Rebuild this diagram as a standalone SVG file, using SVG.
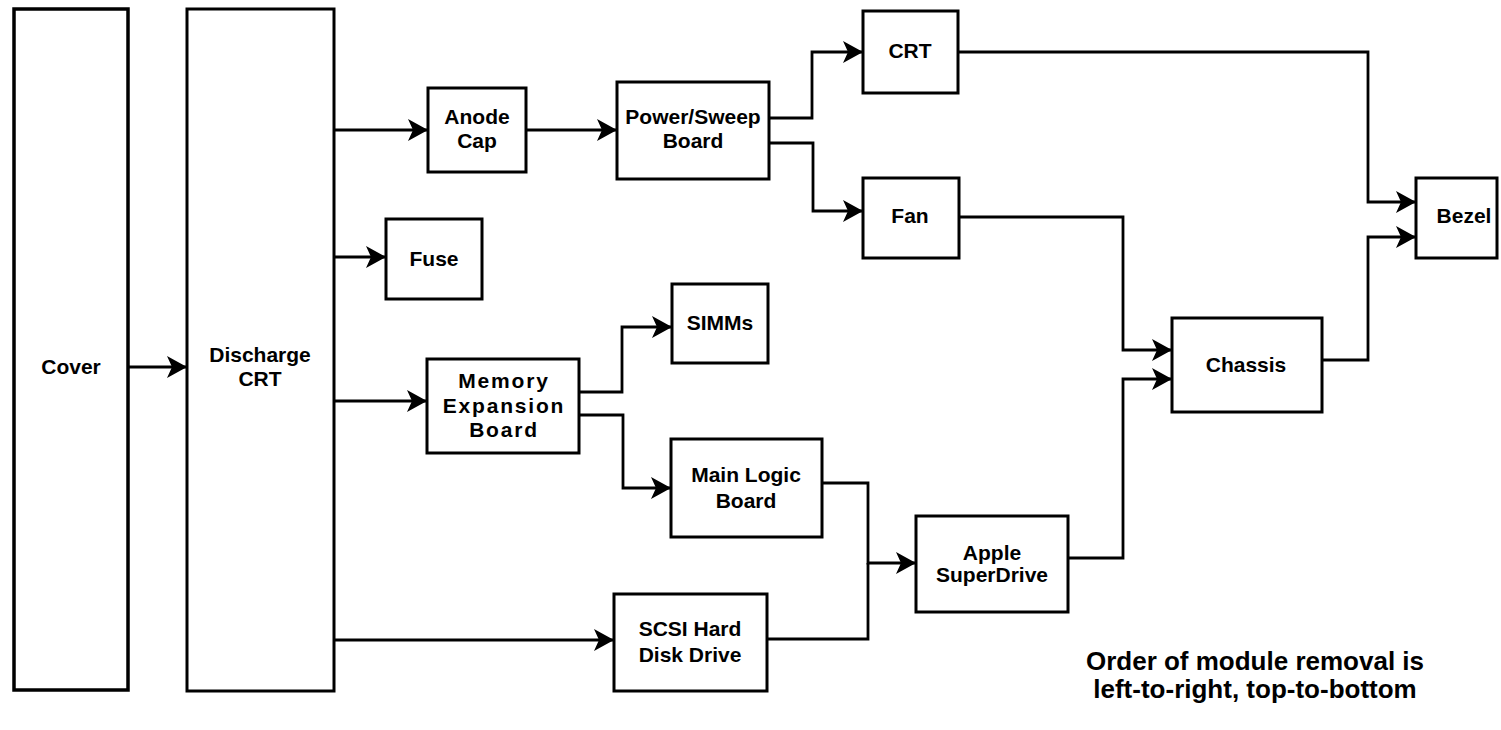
<svg xmlns="http://www.w3.org/2000/svg" width="1501" height="730" viewBox="0 0 1501 730">
<style>
.box{fill:#fff;stroke:#000;stroke-width:3}
.thick{stroke-width:3.5}
.lbl{font-family:"Liberation Sans",Arial,Helvetica,sans-serif;font-weight:bold;font-size:21px;fill:#000;text-anchor:middle}
.sp{letter-spacing:1.8px}
.con{fill:none;stroke:#000;stroke-width:2.8;marker-end:url(#arr)}
.plain{fill:none;stroke:#000;stroke-width:2.8}
.note{font-family:"Liberation Sans",Arial,Helvetica,sans-serif;font-weight:bold;font-size:26px;fill:#000;text-anchor:middle}
</style>
<defs>
<marker id="arr" markerUnits="userSpaceOnUse" markerWidth="24" markerHeight="24" refX="20" refY="11" orient="auto" overflow="visible">
<path d="M0,0 L20,11 L0,22 L5,11 Z" fill="#000"/>
</marker>
</defs>
<rect width="1501" height="730" fill="#fff"/>
<g id="connectors">
<path class="con" d="M128,367 H187"/>
<path class="con" d="M334,130 H428"/>
<path class="con" d="M334,257 H386"/>
<path class="con" d="M334,401 H427"/>
<path class="con" d="M334,640 H614"/>
<path class="con" d="M526,130 H617"/>
<path class="con" d="M769,118 H812 V52 H863"/>
<path class="con" d="M769,143 H813 V211 H863"/>
<path class="con" d="M958,52 H1368 V202 H1416"/>
<path class="con" d="M959,217 H1123 V350 H1172"/>
<path class="con" d="M579,392 H622 V327 H672"/>
<path class="con" d="M579,415 H623 V488 H671"/>
<path class="con" d="M822,483 H868 V563 H916"/>
<path class="plain" d="M767,639 H868 V563"/>
<path class="con" d="M1068,558 H1123 V379 H1172"/>
<path class="con" d="M1322,360 H1368 V237 H1416"/>
</g>
<g id="cover"><rect class="box thick" x="14" y="9" width="114" height="681"/><text class="lbl" x="71" y="374">Cover</text></g>
<g id="discharge"><rect class="box" x="187" y="9" width="147" height="682"/><text class="lbl" x="260" y="362">Discharge</text><text class="lbl" x="260" y="386">CRT</text></g>
<g id="anode"><rect class="box" x="428" y="88" width="98" height="84"/><text class="lbl" x="477" y="124">Anode</text><text class="lbl" x="477" y="148">Cap</text></g>
<g id="fuse"><rect class="box" x="386" y="219" width="96" height="80"/><text class="lbl" x="434" y="266">Fuse</text></g>
<g id="power"><rect class="box" x="617" y="82" width="152" height="97"/><text class="lbl" x="693" y="124">Power/Sweep</text><text class="lbl" x="693" y="148">Board</text></g>
<g id="crt"><rect class="box" x="863" y="11" width="95" height="82"/><text class="lbl" x="910" y="58">CRT</text></g>
<g id="fan"><rect class="box" x="863" y="178" width="96" height="80"/><text class="lbl" x="910" y="223">Fan</text></g>
<g id="simms"><rect class="box" x="672" y="284" width="96" height="79"/><text class="lbl" x="720" y="330">SIMMs</text></g>
<g id="memory"><rect class="box" x="427" y="359" width="152" height="94"/><text class="lbl sp" x="504" y="388">Memory</text><text class="lbl sp" x="504" y="413">Expansion</text><text class="lbl sp" x="504" y="437">Board</text></g>
<g id="mlb"><rect class="box" x="671" y="439" width="151" height="98"/><text class="lbl" x="746" y="482">Main Logic</text><text class="lbl" x="746" y="508">Board</text></g>
<g id="scsi"><rect class="box" x="614" y="594" width="153" height="97"/><text class="lbl" x="690" y="636">SCSI Hard</text><text class="lbl" x="690" y="662">Disk Drive</text></g>
<g id="apple"><rect class="box" x="916" y="516" width="152" height="96"/><text class="lbl" x="992" y="560">Apple</text><text class="lbl" x="992" y="582">SuperDrive</text></g>
<g id="chassis"><rect class="box" x="1172" y="318" width="150" height="94"/><text class="lbl" x="1246" y="372">Chassis</text></g>
<g id="bezel"><rect class="box" x="1416" y="178" width="81" height="80"/><text class="lbl" x="1464" y="223">Bezel</text></g>
<g id="note"><text class="note" x="1255" y="670">Order of module removal is</text><text class="note" x="1255" y="698">left-to-right, top-to-bottom</text></g>
</svg>
